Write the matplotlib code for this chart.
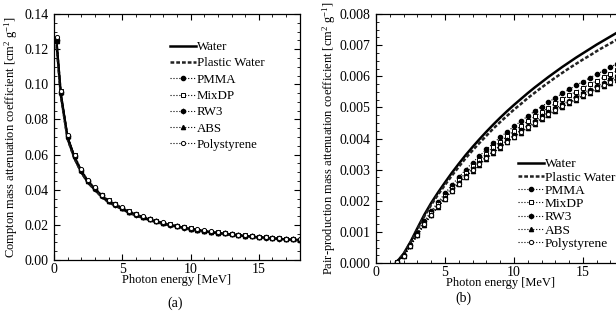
import matplotlib
matplotlib.use("Agg")
import matplotlib.pyplot as plt
from matplotlib.ticker import MultipleLocator, FormatStrFormatter

# Photon energies [MeV]
energy_c = [0.2, 0.5, 1.0, 1.5, 2.0, 2.5, 3.0, 3.5, 4.0, 4.5, 5.0, 5.5, 6.0, 6.5,
            7.0, 7.5, 8.0, 8.5, 9.0, 9.5, 10.0, 10.5, 11.0, 11.5, 12.0, 12.5,
            13.0, 13.5, 14.0, 14.5, 15.0, 15.5, 16.0, 16.5, 17.0, 17.5, 18.0]
energy_p = [1.5, 2.0, 2.5, 3.0, 3.5, 4.0, 4.5, 5.0, 5.5, 6.0, 6.5,
            7.0, 7.5, 8.0, 8.5, 9.0, 9.5, 10.0, 10.5, 11.0, 11.5, 12.0, 12.5,
            13.0, 13.5, 14.0, 14.5, 15.0, 15.5, 16.0, 16.5, 17.0, 17.5, 18.0]

materials = ["Water", "Plastic Water", "PMMA", "MixDP", "RW3", "ABS", "Polystyrene"]

# Compton mass attenuation coefficient [cm^2 g^-1]
compton_water = [0.122, 0.094, 0.069, 0.058, 0.050, 0.044, 0.040, 0.036, 0.033, 0.031,
                 0.029, 0.027, 0.0255, 0.024, 0.0228, 0.0217, 0.0207, 0.0198, 0.0190,
                 0.0182, 0.0175, 0.0169, 0.0163, 0.0158, 0.0153, 0.0148, 0.0144, 0.0140,
                 0.0136, 0.0132, 0.0129, 0.0126, 0.0123, 0.0120, 0.0117, 0.0115, 0.0113]
compton_plastic = [0.1215, 0.0937, 0.0688, 0.0578, 0.0499, 0.0439, 0.0399, 0.0359, 0.0329,
                   0.0309, 0.0289, 0.0269, 0.0254, 0.0239, 0.0227, 0.0216, 0.0206, 0.0197,
                   0.0189, 0.0181, 0.0174, 0.0168, 0.0162, 0.0157, 0.0152, 0.0147, 0.0143,
                   0.0139, 0.0135, 0.0131, 0.0128, 0.0125, 0.0122, 0.0119, 0.0116, 0.0114,
                   0.0112]
compton_pmma = [0.125, 0.0955, 0.0705, 0.0592, 0.0511, 0.0450, 0.0409, 0.0368, 0.0337,
                0.0317, 0.0296, 0.0276, 0.0260, 0.0245, 0.0233, 0.0222, 0.0211, 0.0202,
                0.0194, 0.0186, 0.0179, 0.0173, 0.0167, 0.0161, 0.0156, 0.0151, 0.0147,
                0.0143, 0.0139, 0.0135, 0.0132, 0.0129, 0.0126, 0.0123, 0.0120, 0.0117,
                0.0115]
compton_mixdp = [0.126, 0.0960, 0.0708, 0.0595, 0.0513, 0.0452, 0.0411, 0.0370, 0.0339,
                 0.0318, 0.0298, 0.0277, 0.0262, 0.0246, 0.0234, 0.0223, 0.0212, 0.0203,
                 0.0195, 0.0187, 0.0180, 0.0173, 0.0167, 0.0162, 0.0157, 0.0152, 0.0148,
                 0.0144, 0.0140, 0.0136, 0.0132, 0.0129, 0.0126, 0.0123, 0.0120, 0.0118,
                 0.0116]
compton_rw3 = [0.1245, 0.0952, 0.0702, 0.0590, 0.0509, 0.0448, 0.0407, 0.0366, 0.0336,
               0.0316, 0.0295, 0.0275, 0.0259, 0.0244, 0.0232, 0.0221, 0.0211, 0.0202,
               0.0193, 0.0185, 0.0178, 0.0172, 0.0166, 0.0161, 0.0156, 0.0151, 0.0147,
               0.0142, 0.0138, 0.0134, 0.0131, 0.0128, 0.0125, 0.0122, 0.0119, 0.0117,
               0.0115]
compton_abs = [0.1248, 0.0957, 0.0706, 0.0593, 0.0512, 0.0451, 0.0410, 0.0369, 0.0338,
               0.0317, 0.0297, 0.0276, 0.0261, 0.0245, 0.0233, 0.0222, 0.0212, 0.0203,
               0.0194, 0.0186, 0.0179, 0.0173, 0.0167, 0.0161, 0.0156, 0.0152, 0.0147,
               0.0143, 0.0139, 0.0135, 0.0132, 0.0129, 0.0126, 0.0123, 0.0120, 0.0118,
               0.0116]
compton_polystyrene = [0.127, 0.0965, 0.0712, 0.0598, 0.0516, 0.0454, 0.0413, 0.0372,
                       0.0341, 0.0320, 0.0300, 0.0279, 0.0263, 0.0248, 0.0236, 0.0224,
                       0.0214, 0.0205, 0.0196, 0.0188, 0.0181, 0.0175, 0.0169, 0.0163,
                       0.0158, 0.0153, 0.0149, 0.0145, 0.0141, 0.0137, 0.0133, 0.0130,
                       0.0127, 0.0124, 0.0121, 0.0119, 0.0117]

# Pair-production mass attenuation coefficient [cm^2 g^-1]
pair_water = [0.00003, 0.00030, 0.00068, 0.00112, 0.00155, 0.00193, 0.00227, 0.00259,
              0.00290, 0.00319, 0.00347, 0.00373, 0.00398, 0.00422, 0.00445, 0.00467,
              0.00488, 0.00508, 0.00527, 0.00546, 0.00564, 0.00581, 0.00598, 0.00614,
              0.00630, 0.00645, 0.00660, 0.00674, 0.00688, 0.00702, 0.00715, 0.00728,
              0.00741, 0.00753]
pair_plastic = [0.00003, 0.00028, 0.00065, 0.00108, 0.0015, 0.00187, 0.0022, 0.00251,
                0.00281, 0.00309, 0.00337, 0.00362, 0.00386, 0.00409, 0.00432, 0.00453,
                0.00473, 0.00493, 0.00511, 0.0053, 0.00547, 0.00564, 0.0058, 0.00596,
                0.00611, 0.00626, 0.0064, 0.00654, 0.00667, 0.00681, 0.00694, 0.00706,
                0.00719, 0.0073]
pair_pmma = [0.00002, 0.00025, 0.00058, 0.00097, 0.00134, 0.00167, 0.00196, 0.00224,
             0.00251, 0.00276, 0.003, 0.00323, 0.00344, 0.00365, 0.00385, 0.00404,
             0.00422, 0.00439, 0.00456, 0.00472, 0.00488, 0.00503, 0.00517, 0.00531,
             0.00545, 0.00558, 0.00571, 0.00583, 0.00595, 0.00607, 0.00618, 0.0063,
             0.00641, 0.00651]
pair_mixdp = [0.00002, 0.00024, 0.00056, 0.00094, 0.00129, 0.00161, 0.0019, 0.00216,
              0.00242, 0.00266, 0.0029, 0.00311, 0.00332, 0.00352, 0.00372, 0.0039,
              0.00407, 0.00424, 0.0044, 0.00456, 0.00471, 0.00485, 0.00499, 0.00513,
              0.00526, 0.00539, 0.00551, 0.00563, 0.00574, 0.00586, 0.00597, 0.00608,
              0.00619, 0.00629]
pair_rw3 = [0.00002, 0.00023, 0.00055, 0.00091, 0.00126, 0.00156, 0.00184, 0.0021,
            0.00235, 0.00258, 0.00281, 0.00302, 0.00322, 0.00342, 0.0036, 0.00378,
            0.00395, 0.00411, 0.00427, 0.00442, 0.00457, 0.00471, 0.00484, 0.00497,
            0.0051, 0.00522, 0.00535, 0.00546, 0.00557, 0.00569, 0.00579, 0.0059,
            0.006, 0.0061]
pair_abs = [0.00002, 0.00022, 0.00054, 0.00089, 0.00123, 0.00153, 0.0018, 0.00206,
            0.00231, 0.00254, 0.00276, 0.00297, 0.00316, 0.00335, 0.00354, 0.00371,
            0.00388, 0.00404, 0.00419, 0.00434, 0.00448, 0.00462, 0.00475, 0.00488,
            0.00501, 0.00513, 0.00525, 0.00536, 0.00547, 0.00558, 0.00568, 0.00579,
            0.00589, 0.00599]
pair_polystyrene = [0.00002, 0.00022, 0.00054, 0.0009, 0.00124, 0.00154, 0.00182, 0.00207,
                    0.00232, 0.00255, 0.00278, 0.00298, 0.00318, 0.00338, 0.00356, 0.00374,
                    0.0039, 0.00406, 0.00422, 0.00437, 0.00451, 0.00465, 0.00478, 0.00491,
                    0.00504, 0.00516, 0.00528, 0.00539, 0.0055, 0.00562, 0.00572, 0.00582,
                    0.00593, 0.00602]

compton = [compton_water, compton_plastic, compton_pmma, compton_mixdp,
           compton_rw3, compton_abs, compton_polystyrene]
pair = [pair_water, pair_plastic, pair_pmma, pair_mixdp,
        pair_rw3, pair_abs, pair_polystyrene]

# line style per material
styles = [
    dict(ls='-', lw=1.8, color='black'),
    dict(ls=(0, (1.5, 0.8)), lw=1.8, color='#222222'),
    dict(ls=':', lw=0.8, color='black', marker='o', ms=3, mfc='black'),
    dict(ls=':', lw=0.8, color='black', marker='s', ms=3, mfc='white', mew=0.7),
    dict(ls=':', lw=0.8, color='black', marker='h', ms=3.2, mfc='black'),
    dict(ls=':', lw=0.8, color='black', marker='^', ms=3, mfc='black'),
    dict(ls=':', lw=0.8, color='black', marker='o', ms=3, mfc='white', mew=0.7),
]

plt.rcParams['font.family'] = ['Liberation Serif', 'DejaVu Serif']
plt.rcParams['mathtext.fontset'] = 'custom'
plt.rcParams['mathtext.rm'] = 'Liberation Serif'
plt.rcParams['mathtext.it'] = 'Liberation Serif:italic'


def style_axes(ax):
    ax.tick_params(which='both', direction='in', top=True, right=True, labelsize=10)
    ax.tick_params(axis='x', pad=2)
    ax.tick_params(axis='y', pad=4)
    ax.tick_params(which='major', length=4, width=0.8)
    ax.tick_params(which='minor', length=2, width=0.6)
    ax.xaxis.set_major_locator(MultipleLocator(5))
    ax.xaxis.set_minor_locator(MultipleLocator(1))
    for s in ax.spines.values():
        s.set_linewidth(0.9)


fig = plt.figure(figsize=(6.16, 3.24), dpi=100)

# (a) Compton
ax1 = fig.add_axes([0.0877, 0.1975, 0.399, 0.759])
for name, vals, st in zip(materials, compton, styles):
    ax1.plot(energy_c, vals, label=name, **st)
ax1.set_xlim(0, 18)
ax1.set_ylim(0, 0.14)
style_axes(ax1)
ax1.yaxis.set_major_locator(MultipleLocator(0.02))
ax1.yaxis.set_minor_locator(MultipleLocator(0.005))
ax1.yaxis.set_major_formatter(FormatStrFormatter('%.2f'))
ax1.set_xlabel('Photon energy [MeV]', fontsize=9, labelpad=-1)
ax1.set_ylabel('Compton mass attenuation coefficient [cm$^2$ g$^{-1}$]',
               fontsize=9, labelpad=3)
ax1.legend(loc='upper left', bbox_to_anchor=(0.472, 0.89), frameon=False,
           fontsize=9.3, handlelength=2.0, handletextpad=0.05,
           labelspacing=0.33, borderpad=0, borderaxespad=0)
fig.text(0.284, 0.065, '(a)', ha='center', va='center', fontsize=10)

# (b) pair production, panel runs past the right edge
ax2 = fig.add_axes([0.6104, 0.188, 0.403, 0.7685])
for name, vals, st in zip(materials, pair, styles):
    ax2.plot(energy_p, vals, label=name, **st)
ax2.set_xlim(0, 18)
ax2.set_ylim(0, 0.008)
style_axes(ax2)
ax2.yaxis.set_major_locator(MultipleLocator(0.001))
ax2.yaxis.set_minor_locator(MultipleLocator(0.00025))
ax2.yaxis.set_major_formatter(FormatStrFormatter('%.3f'))
ax2.set_xlabel('Photon energy [MeV]', fontsize=9, labelpad=-1)
ax2.set_ylabel('Pair-production mass attenuation coefficient [cm$^2$ g$^{-1}$]',
               fontsize=9, labelpad=1)
ax2.legend(loc='upper left', bbox_to_anchor=(0.57, 0.422), frameon=False,
           fontsize=9.6, handlelength=2.0, handletextpad=0.05,
           labelspacing=0.07, borderpad=0, borderaxespad=0)
fig.text(0.752, 0.08, '(b)', ha='center', va='center', fontsize=10)

fig.savefig('out.png', dpi=100)
